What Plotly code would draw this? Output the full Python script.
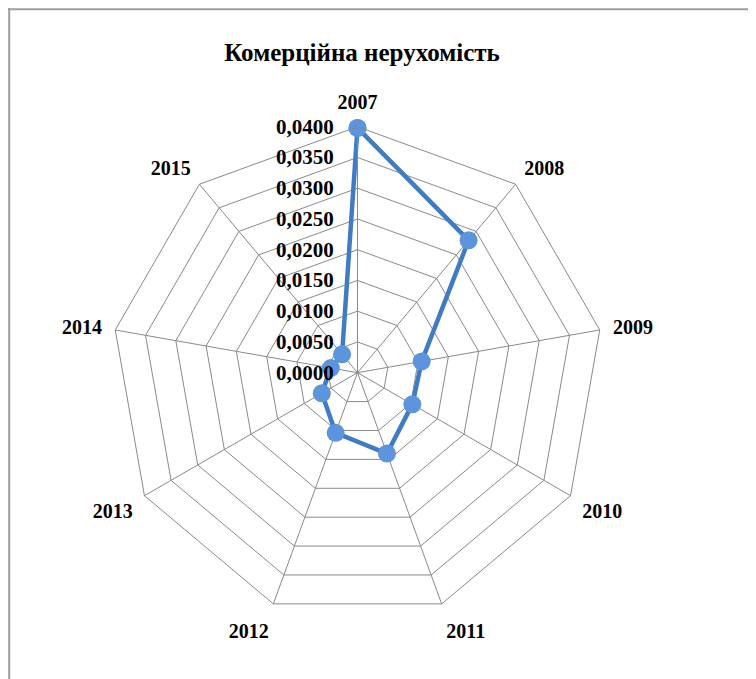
import plotly.graph_objects as go

years = ["2007", "2008", "2009", "2010", "2011", "2012", "2013", "2014", "2015"]
values = [0.0398, 0.0281, 0.0106, 0.0103, 0.0140, 0.0104, 0.0067, 0.0044, 0.0039]
title_text = "Комерційна нерухомість"
tick_vals = [0.0, 0.005, 0.01, 0.015, 0.02, 0.025, 0.03, 0.035, 0.04]

# page body has an 8px margin; figure occupies page 8..756 x 8..679
OFF = 8
W, H = 748, 671
cx, cy, R = 357.5 - OFF, 372.7 - OFF, 246

fig = go.Figure()
fig.add_trace(go.Scatterpolar(
    r=values + [values[0]],
    theta=years + [years[0]],
    mode="lines+markers",
    line=dict(color="#3f7cc4", width=4.5),
    marker=dict(size=18, color="#5c94dd", line=dict(width=0)),
    showlegend=False,
    cliponaxis=False,
))

font_serif = "Liberation Serif, Times New Roman, serif"
fig.update_layout(
    width=W, height=H,
    margin=dict(l=0, r=0, t=0, b=0),
    paper_bgcolor="white",
    separators=", ",
    title=dict(text="<b>" + title_text + "</b>", x=(362 - OFF) / W, xanchor="center",
               y=1 - (52 - OFF) / H, yanchor="middle",
               font=dict(family=font_serif, size=25, color="black")),
    polar=dict(
        domain=dict(x=[(cx - R) / W, (cx + R) / W],
                    y=[(H - cy - R) / H, (H - cy + R) / H]),
        bgcolor="white",
        gridshape="linear",
        radialaxis=dict(
            range=[0, 0.04], tickvals=tick_vals, tickformat=".4f",
            angle=90, tickangle=90, side="counterclockwise",
            showline=True, linecolor="#8a8a8a", linewidth=1,
            gridcolor="#8a8a8a", gridwidth=1,
            ticks="outside", ticklen=16, tickcolor="rgba(0,0,0,0)",
            tickfont=dict(family=font_serif, size=21, color="black", weight="bold"),
        ),
        angularaxis=dict(
            direction="clockwise", rotation=90,
            categoryorder="array", categoryarray=years,
            showline=True, linecolor="#8a8a8a", linewidth=1,
            gridcolor="#8a8a8a", gridwidth=1,
            ticks="outside", ticklen=9, tickcolor="rgba(0,0,0,0)",
            tickfont=dict(family=font_serif, size=20, color="black", weight="bold"),
        ),
    ),
    shapes=[
        dict(type="line", xref="paper", yref="paper", x0=0, x1=1,
             y0=1 - 1.2 / H, y1=1 - 1.2 / H,
             line=dict(color="#9e9e9e", width=2)),
        dict(type="line", xref="paper", yref="paper", x0=1.2 / W, x1=1.2 / W,
             y0=0, y1=1,
             line=dict(color="#9e9e9e", width=2)),
    ],
)

fig.write_html("out.html")
